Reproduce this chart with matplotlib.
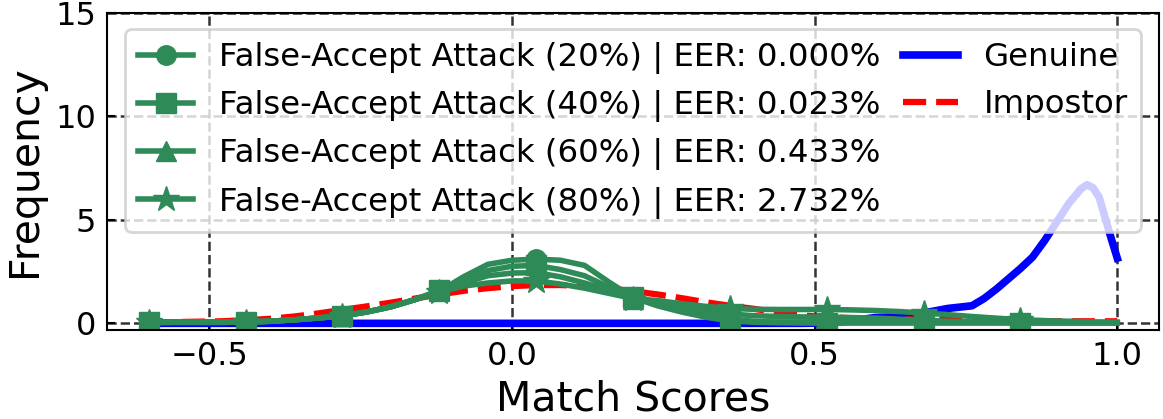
import numpy as np
import matplotlib
matplotlib.use("Agg")
import matplotlib.pyplot as plt
from matplotlib.lines import Line2D

# score grid used for the attack / impostor curves
scores = [-0.60, -0.56, -0.52, -0.48, -0.44, -0.40, -0.36, -0.32, -0.28, -0.24,
          -0.20, -0.16, -0.12, -0.08, -0.04, 0.00, 0.04, 0.08, 0.12, 0.16,
          0.20, 0.24, 0.28, 0.32, 0.36, 0.40, 0.44, 0.48, 0.52, 0.56,
          0.60, 0.64, 0.68, 0.72, 0.76, 0.80, 0.84, 0.88, 0.92, 0.96, 1.00]

attack_20 = [0.05, 0.05, 0.05, 0.05, 0.06, 0.10, 0.17, 0.26, 0.36, 0.55,
             0.80, 1.15, 1.55, 2.25, 2.85, 3.05, 3.10, 3.05, 2.80, 2.00,
             1.25, 0.85, 0.55, 0.30, 0.12, 0.05, 0.03, 0.02, 0.02, 0.02,
             0.02, 0.02, 0.02, 0.02, 0.02, 0.02, 0.02, 0.02, 0.02, 0.02, 0.02]
attack_40 = [0.05, 0.05, 0.05, 0.05, 0.06, 0.10, 0.17, 0.26, 0.36, 0.55,
             0.80, 1.15, 1.60, 2.10, 2.55, 2.76, 2.80, 2.60, 2.30, 1.75,
             1.25, 0.90, 0.65, 0.40, 0.20, 0.10, 0.05, 0.04, 0.03, 0.03,
             0.03, 0.03, 0.03, 0.03, 0.03, 0.03, 0.03, 0.03, 0.03, 0.03, 0.03]
attack_60 = [0.05, 0.05, 0.05, 0.05, 0.06, 0.10, 0.17, 0.26, 0.36, 0.55,
             0.80, 1.15, 1.55, 1.95, 2.30, 2.43, 2.45, 2.25, 1.95, 1.60,
             1.20, 1.00, 0.80, 0.60, 0.45, 0.37, 0.33, 0.31, 0.30, 0.28,
             0.25, 0.20, 0.15, 0.10, 0.07, 0.05, 0.04, 0.03, 0.03, 0.03, 0.03]
attack_80 = [0.05, 0.05, 0.05, 0.05, 0.06, 0.10, 0.17, 0.26, 0.36, 0.55,
             0.80, 1.15, 1.50, 1.80, 1.95, 2.05, 2.05, 1.90, 1.70, 1.45,
             1.20, 1.10, 0.95, 0.82, 0.72, 0.68, 0.67, 0.67, 0.67, 0.65,
             0.62, 0.57, 0.50, 0.42, 0.33, 0.25, 0.18, 0.13, 0.10, 0.07, 0.06]

impostor = [0.05, 0.06, 0.08, 0.10, 0.15, 0.22, 0.33, 0.48, 0.65, 0.82,
            1.00, 1.20, 1.40, 1.57, 1.70, 1.80, 1.85, 1.85, 1.80, 1.70,
            1.55, 1.40, 1.22, 1.02, 0.85, 0.70, 0.52, 0.38, 0.30, 0.25,
            0.22, 0.20, 0.18, 0.16, 0.14, 0.13, 0.12, 0.11, 0.10, 0.10, 0.10]

genuine_x = [-0.60, -0.40, -0.20, 0.00, 0.20, 0.40, 0.48, 0.52, 0.56, 0.60,
             0.64, 0.68, 0.72, 0.76, 0.78, 0.80, 0.82, 0.84, 0.86, 0.88,
             0.90, 0.92, 0.94, 0.95, 0.96, 0.97, 0.98, 0.99, 1.00]
genuine = [0.0, 0.0, 0.0, 0.0, 0.0, 0.0, 0.0, 0.02, 0.12, 0.28,
           0.33, 0.50, 0.72, 0.85, 1.20, 1.65, 2.15, 2.65, 3.20, 4.00,
           4.90, 5.80, 6.50, 6.70, 6.55, 6.10, 5.10, 4.10, 3.15]

attack_labels = ["False-Accept Attack (20%) | EER: 0.000%",
                 "False-Accept Attack (40%) | EER: 0.023%",
                 "False-Accept Attack (60%) | EER: 0.433%",
                 "False-Accept Attack (80%) | EER: 2.732%"]
markers = ["o", "s", "^", "*"]

fig = plt.figure(figsize=(11.63, 4.19), dpi=100)
ax = fig.add_axes([0.092, 0.212, 0.9046, 0.757])

g_line, = ax.plot(genuine_x, genuine, color="blue", lw=5.5, label="Genuine")
i_line, = ax.plot(scores, impostor, color="red", lw=4.5, linestyle="--", label="Impostor")

handles = []
for vals, lab, mk in zip([attack_20, attack_40, attack_60, attack_80], attack_labels, markers):
    ms = 19 if mk == "*" else 14
    h, = ax.plot(scores, vals, color="seagreen", lw=4, marker=mk, markersize=ms,
                 markevery=slice(0, 37, 4), label=lab)
    handles.append(h)

blank = Line2D([], [], color="none")
handles += [g_line, i_line, blank, blank]
labels = [h.get_label() for h in handles[:6]] + [" ", " "]
leg = ax.legend(handles, labels, loc="upper center", ncol=2, fontsize=23.3,
                handlelength=1.7, columnspacing=0.68, framealpha=0.8)
leg.get_frame().set_linewidth(2)

ax.set_xlim(-0.669, 1.069)
ax.set_ylim(-0.33, 15)
ax.set_xticks([-0.5, 0.0, 0.5, 1.0])
ax.set_yticks([0, 5, 10, 15])
ax.grid(True, color="black", linestyle="--", linewidth=1.8, alpha=0.8)
ax.tick_params(direction="in", length=6, width=1.5, labelsize=23, pad=8)
for sp in ax.spines.values():
    sp.set_linewidth(1.5)
ax.set_xlabel("Match Scores", fontsize=29.5, labelpad=5)
ax.set_ylabel("Frequency", fontsize=29.5, labelpad=7)

fig.savefig("out.png", dpi=100)
